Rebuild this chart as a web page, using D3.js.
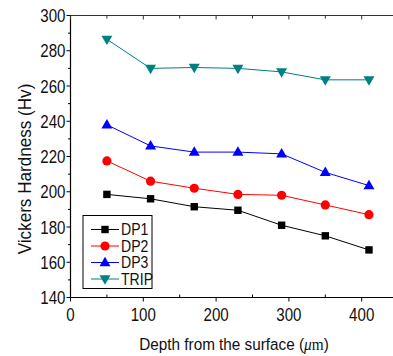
<!DOCTYPE html>
<html>
<head>
<meta charset="utf-8">
<script src="https://cdn.jsdelivr.net/npm/d3@7"></script>
<style>
  body { margin: 0; background: #fff; }
  text { font-family: "Liberation Sans", Arial, sans-serif; fill: #111; }
</style>
</head>
<body>
<svg id="chart" width="393" height="356"></svg>
<script>
// depth values (um)
var depths = [50, 110, 170, 230, 290, 350, 410];
var seriesNames = ["DP1", "DP2", "DP3", "TRIP"];
var dp1 = [198.5, 196, 191.5, 189.5, 181, 175, 167];
var dp2 = [217.5, 206, 202, 198.5, 198, 192.5, 187];
var dp3 = [238, 226, 222.5, 222.5, 221.5, 211, 203.5];
var trip = [286.5, 270, 270.5, 270, 268, 263.5, 263.5];
var colors = ["#000000", "#ff0000", "#0000ff", "#008080"];
var xTicks = [0, 100, 200, 300, 400];
var yTicks = [140, 160, 180, 200, 220, 240, 260, 280, 300];

var allSeries = [dp1, dp2, dp3, trip];

var svg = d3.select("#chart");
var pLeft = 70.5, pTop = 15.5, pBottom = 297.5;

var x = d3.scaleLinear().domain([0, 400]).range([pLeft, 361.7]);
var y = d3.scaleLinear().domain([140, 300]).range([pBottom, pTop]);
var xEnd = 393;

var g = svg.append("g");

// narrow text like the original figure
function narrowText(sel, tx, ty, str, size, anchor, sx) {
  return sel.append("text")
    .attr("transform", "translate(" + tx + "," + ty + ") scale(" + sx + ",1)")
    .attr("text-anchor", anchor).attr("font-size", size).text(str);
}

// frame lines (no right border in the picture)
g.append("line").attr("x1", pLeft).attr("x2", xEnd).attr("y1", pTop).attr("y2", pTop)
  .attr("stroke", "#333").attr("stroke-width", 1.2);
g.append("line").attr("x1", pLeft).attr("x2", xEnd).attr("y1", pBottom).attr("y2", pBottom)
  .attr("stroke", "#000").attr("stroke-width", 1.2);
g.append("line").attr("x1", pLeft).attr("x2", pLeft).attr("y1", pTop).attr("y2", pBottom)
  .attr("stroke", "#000").attr("stroke-width", 1.2);

// x ticks
var xMinor = d3.range(50, 451, 100);
xTicks.forEach(function(t){
  g.append("line").attr("x1", x(t)).attr("x2", x(t)).attr("y1", pBottom).attr("y2", pBottom + 4)
    .attr("stroke", "#000");
  g.append("line").attr("x1", x(t)).attr("x2", x(t)).attr("y1", pTop).attr("y2", pTop + 4)
    .attr("stroke", "#333");
  narrowText(g, x(t), pBottom + 23, t, 18, "middle", 0.84);
});
xMinor.forEach(function(t){
  if (x(t) > xEnd) return;
  g.append("line").attr("x1", x(t)).attr("x2", x(t)).attr("y1", pBottom).attr("y2", pBottom - 3)
    .attr("stroke", "#000");
  g.append("line").attr("x1", x(t)).attr("x2", x(t)).attr("y1", pTop).attr("y2", pTop + 3)
    .attr("stroke", "#333");
});

// y ticks
yTicks.forEach(function(t){
  g.append("line").attr("x1", pLeft - 4).attr("x2", pLeft).attr("y1", y(t)).attr("y2", y(t))
    .attr("stroke", "#000");
  narrowText(g, pLeft - 5, y(t) + 6.5, t, 18, "end", 0.84);
});
d3.range(150, 300, 20).forEach(function(t){
  g.append("line").attr("x1", pLeft - 2.5).attr("x2", pLeft).attr("y1", y(t)).attr("y2", y(t))
    .attr("stroke", "#000");
});

// axis titles
g.append("text").attr("transform", "translate(31,169) rotate(-90) scale(0.95,1)")
  .attr("text-anchor", "middle").attr("font-size", 18).text("Vickers Hardness (Hv)");
var xt = g.append("text").attr("transform", "translate(234,350) scale(0.9,1)")
  .attr("text-anchor", "middle").attr("font-size", 17);
xt.append("tspan").text("Depth from the surface (");
xt.append("tspan").attr("font-family", "Liberation Serif, serif").attr("font-style", "italic").text("\u03bc");
xt.append("tspan").attr("font-family", "Liberation Serif, serif").text("m");
xt.append("tspan").text(")");

// markers
function marker(sel, i, cx, cy) {
  var c = colors[i];
  if (i === 0) {
    sel.append("rect").attr("x", cx - 3.7).attr("y", cy - 3.7).attr("width", 7.4).attr("height", 7.4).attr("fill", c);
  } else if (i === 1) {
    sel.append("circle").attr("cx", cx).attr("cy", cy).attr("r", 4.6).attr("fill", c);
  } else if (i === 2) {
    sel.append("path").attr("d", d3.symbol().type(d3.symbolTriangle).size(52)())
      .attr("transform", "translate(" + cx + "," + (cy + 0.5) + ")").attr("fill", c);
  } else {
    sel.append("path").attr("d", d3.symbol().type(d3.symbolTriangle).size(52)())
      .attr("transform", "translate(" + cx + "," + (cy - 0.5) + ") rotate(180)").attr("fill", c);
  }
}

var line = d3.line().x(function(d, i){ return x(depths[i]); }).y(function(d){ return y(d); });

allSeries.forEach(function(vals, i){
  g.append("path").datum(vals).attr("d", line)
    .attr("fill", "none").attr("stroke", colors[i]).attr("stroke-width", 1);
  vals.forEach(function(v, j){ marker(g, i, x(depths[j]), y(v)); });
});

// legend
var lg = g.append("g");
lg.append("rect").attr("x", 83).attr("y", 215.5).attr("width", 69).attr("height", 73)
  .attr("fill", "#fff").attr("stroke", "#000").attr("stroke-width", 1);
seriesNames.forEach(function(name, i){
  var ly = 229.5 + i * 16.5;
  lg.append("line").attr("x1", 91).attr("x2", 119).attr("y1", ly).attr("y2", ly)
    .attr("stroke", colors[i]).attr("stroke-width", 1);
  marker(lg, i, 105, ly);
  narrowText(lg, 121, ly + 5.5, name, 16, "start", 0.88);
});
</script>
</body>
</html>
